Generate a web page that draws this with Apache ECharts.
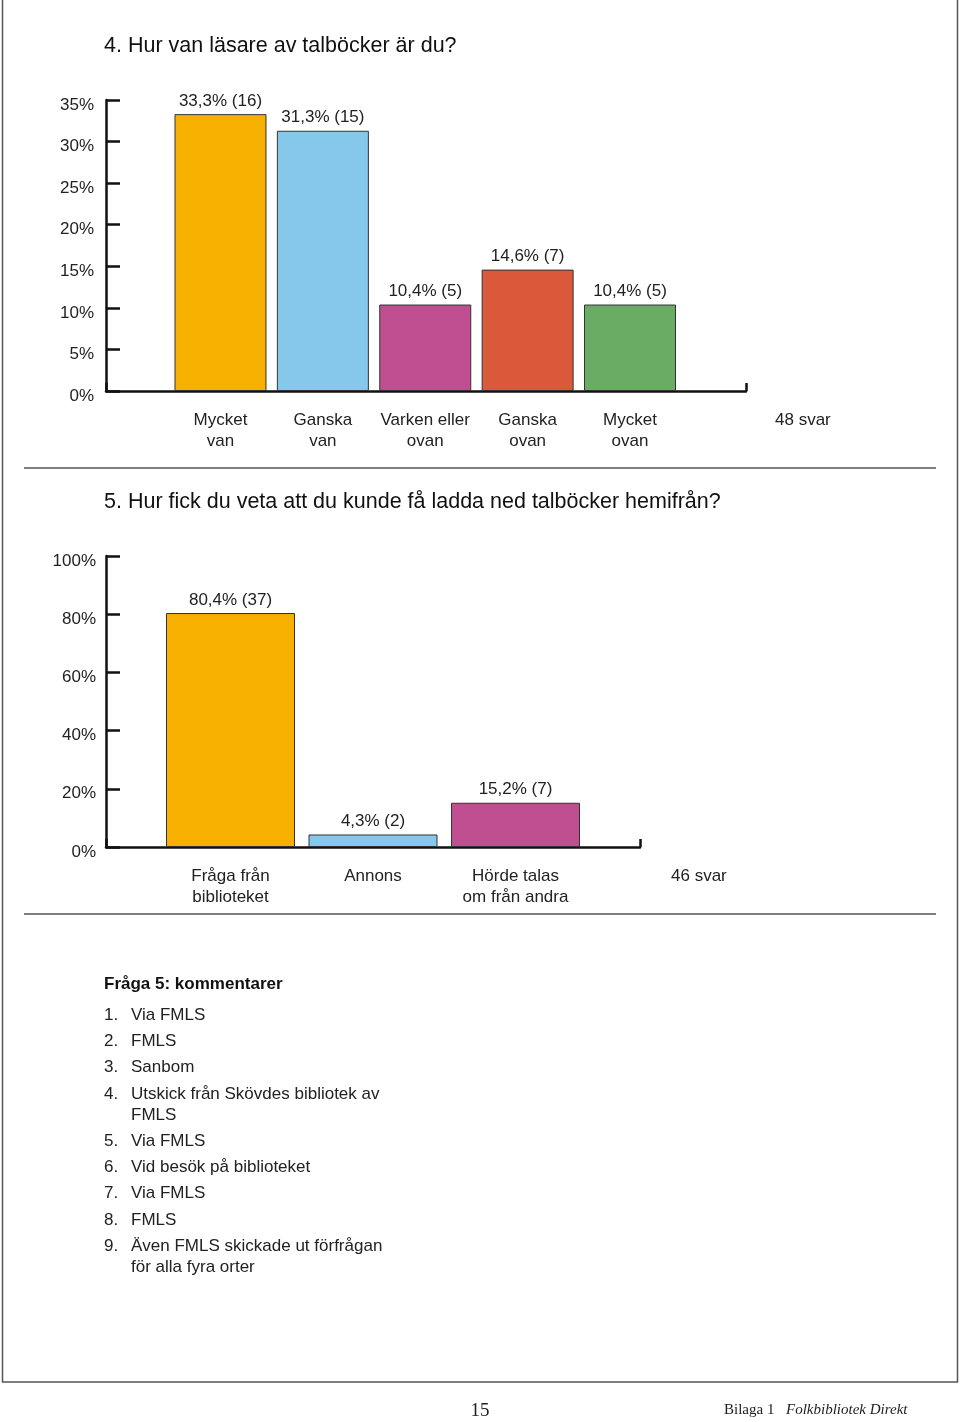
<!DOCTYPE html>
<html>
<head>
<meta charset="utf-8">
<script src="https://cdn.jsdelivr.net/npm/echarts@6/dist/echarts.min.js"></script>
<style>
html,body{margin:0;padding:0;background:#fff;}
#c{width:960px;height:1422px;}
</style>
</head>
<body>
<div id="c"></div>
<script>
// ---- Data ----
const q4Title = '4. Hur van läsare av talböcker är du?';
const q4Categories = ['Mycket\nvan', 'Ganska\nvan', 'Varken eller\novan', 'Ganska\novan', 'Mycket\novan'];
const q4Percent = [33.3, 31.3, 10.4, 14.6, 10.4];
const q4Counts = [16, 15, 5, 7, 5];
const q4Total = '48 svar';
const q4AxisMax = 35;
const q4AxisStep = 5;

const q5Title = '5. Hur fick du veta att du kunde få ladda ned talböcker hemifrån?';
const q5Categories = ['Fråga från\nbiblioteket', 'Annons', 'Hörde talas\nom från andra'];
const q5Percent = [80.4, 4.3, 15.2];
const q5Counts = [37, 2, 7];
const q5Total = '46 svar';
const q5AxisMax = 100;
const q5AxisStep = 20;

const commentsHeader = 'Fråga 5: kommentarer';
const comments = [
  ['1.', 'Via FMLS'],
  ['2.', 'FMLS'],
  ['3.', 'Sanbom'],
  ['4.', 'Utskick från Skövdes bibliotek av\nFMLS'],
  ['5.', 'Via FMLS'],
  ['6.', 'Vid besök på biblioteket'],
  ['7.', 'Via FMLS'],
  ['8.', 'FMLS'],
  ['9.', 'Även FMLS skickade ut förfrågan\nför alla fyra orter']
];
const pageNumber = '15';
const footerLeft = 'Bilaga 1';
const footerRight = 'Folkbibliotek Direkt';

// ---- Styles ----
const q4Colors = ['#F7B000', '#85C8EB', '#C04F92', '#D9593A', '#6BAC65'];
const q5Colors = ['#F7B000', '#85C8EB', '#C04F92'];
const FONT = '"Liberation Sans", Arial, Helvetica, sans-serif';
const SERIF = '"Liberation Serif", "DejaVu Serif", serif';
const TXT = '#222';

function fmtLabel(counts) {
  return function (p) {
    return p.value.toFixed(1).replace('.', ',') + '% (' + counts[p.dataIndex] + ')';
  };
}

function frameX(gridIndex) {
  return {
    type: 'value', gridIndex: gridIndex, min: 0, max: 1, interval: 1,
    axisLine: {show: true, lineStyle: {color: '#111', width: 2.5}},
    axisTick: {show: true, inside: true, length: 8, lineStyle: {color: '#111', width: 2.5}},
    axisLabel: {show: false}, splitLine: {show: false}
  };
}
function frameY(gridIndex, max, step, margin) {
  return {
    type: 'value', gridIndex: gridIndex, min: 0, max: max, interval: step,
    axisLine: {show: true, lineStyle: {color: '#111', width: 2.5}},
    axisTick: {show: true, inside: true, length: 14, lineStyle: {color: '#111', width: 2.5}},
    axisLabel: {show: true, formatter: '{value}%', fontFamily: FONT, fontSize: 17, color: TXT, margin: margin, verticalAlign: 'top', lineHeight: 10},
    splitLine: {show: false}
  };
}
function catX(gridIndex, cats) {
  return {
    type: 'category', gridIndex: gridIndex, data: cats,
    axisLine: {show: false}, axisTick: {show: false},
    axisLabel: {show: true, interval: 0, fontFamily: FONT, fontSize: 17, lineHeight: 21, color: TXT, margin: 19}
  };
}
function hiddenY(gridIndex, max) {
  return {type: 'value', gridIndex: gridIndex, min: 0, max: max, show: false};
}
function barSeries(axisIndex, values, colors, counts, width) {
  return {
    type: 'bar', xAxisIndex: axisIndex, yAxisIndex: axisIndex, barWidth: width,
    data: values.map(function (v, i) {
      return {value: v, itemStyle: {color: colors[i], borderColor: '#333', borderWidth: 1}};
    }),
    label: {show: true, position: 'top', distance: 4.5, formatter: fmtLabel(counts), fontFamily: FONT, fontSize: 17, color: TXT},
    emphasis: {disabled: true}
  };
}

const graphics = [
  {type: 'rect', shape: {x: 2.5, y: -1, width: 955, height: 1383}, style: {fill: 'none', stroke: '#555', lineWidth: 1.5}, silent: true},
  {type: 'line', shape: {x1: 24, y1: 468, x2: 936, y2: 468}, style: {stroke: '#555', lineWidth: 1.5}},
  {type: 'line', shape: {x1: 24, y1: 914, x2: 936, y2: 914}, style: {stroke: '#555', lineWidth: 1.5}},
  {type: 'text', x: 104, y: 46, style: {text: q4Title, font: '21.5px ' + FONT, fill: '#111', textVerticalAlign: 'middle'}},
  {type: 'text', x: 104, y: 502, style: {text: q5Title, font: '21.5px ' + FONT, fill: '#111', textVerticalAlign: 'middle'}},
  {type: 'text', x: 775, y: 420, style: {text: q4Total, font: '17px ' + FONT, fill: TXT, textVerticalAlign: 'middle'}},
  {type: 'text', x: 671, y: 876, style: {text: q5Total, font: '17px ' + FONT, fill: TXT, textVerticalAlign: 'middle'}},
  {type: 'text', x: 104, y: 984, style: {text: commentsHeader, font: 'bold 17px ' + FONT, fill: '#111', textVerticalAlign: 'middle'}},
  {type: 'text', x: 480, y: 1411, style: {text: pageNumber, font: '19px ' + SERIF, fill: '#222', textAlign: 'center', textVerticalAlign: 'middle'}},
  {type: 'text', x: 724, y: 1410, style: {text: footerLeft, font: '15px ' + SERIF, fill: '#222', textVerticalAlign: 'middle'}},
  {type: 'text', x: 786, y: 1410, style: {text: footerRight, font: 'italic 15px ' + SERIF, fill: '#222', textVerticalAlign: 'middle'}}
];
let cy = 1015;
comments.forEach(function (c) {
  graphics.push({type: 'text', x: 104, y: cy, style: {text: c[0], font: '17px ' + FONT, fill: TXT, textVerticalAlign: 'middle'}});
  const lines = c[1].split('\n');
  graphics.push({type: 'text', x: 131, y: cy - 10.5, style: {text: c[1], font: '17px ' + FONT, fill: TXT, textVerticalAlign: 'top', lineHeight: 21}});
  cy += 26.3 + (lines.length - 1) * 21;
});

const chart = echarts.init(document.getElementById('c'), null, {renderer: 'canvas'});
chart.setOption({
  animation: false,
  backgroundColor: '#fff',
  grid: [
    {left: 106, top: 100, width: 640, height: 291},
    {left: 169.3, top: 100, width: 511.9, height: 291},
    {left: 106, top: 556, width: 534, height: 291},
    {left: 159.25, top: 556, width: 427.5, height: 291}
  ],
  xAxis: [frameX(0), catX(1, q4Categories), frameX(2), catX(3, q5Categories)],
  yAxis: [frameY(0, q4AxisMax, q4AxisStep, 12), hiddenY(1, q4AxisMax), frameY(2, q5AxisMax, q5AxisStep, 10), hiddenY(3, q5AxisMax)],
  series: [
    barSeries(1, q4Percent, q4Colors, q4Counts, 92),
    barSeries(3, q5Percent, q5Colors, q5Counts, 129)
  ],
  graphic: graphics
});
</script>
</body>
</html>
